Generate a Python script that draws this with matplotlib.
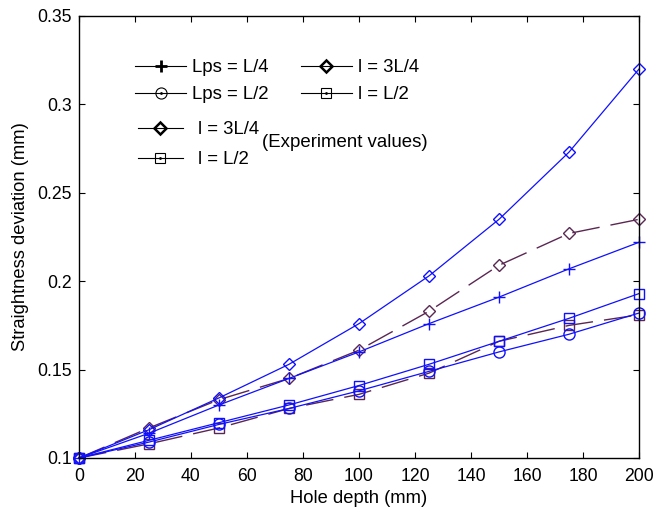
import matplotlib.pyplot as plt
from matplotlib.lines import Line2D
from matplotlib.legend_handler import HandlerTuple

plt.rcParams['font.family'] = ['Liberation Sans', 'DejaVu Sans']

# hole depth (mm)
depth = [0, 25, 50, 75, 100, 125, 150, 175, 200]

# simulation (blue)
sim_lps_l4 = [0.100, 0.114, 0.130, 0.145, 0.160, 0.176, 0.191, 0.207, 0.222]
sim_lps_l2 = [0.100, 0.109, 0.119, 0.128, 0.138, 0.149, 0.160, 0.170, 0.182]
sim_l_3l4 = [0.100, 0.116, 0.134, 0.153, 0.176, 0.203, 0.235, 0.273, 0.320]
sim_l_l2 = [0.100, 0.110, 0.120, 0.130, 0.141, 0.153, 0.166, 0.179, 0.193]

# experiment values (purple, dashed)
exp_l_3l4 = [0.100, 0.117, 0.133, 0.145, 0.161, 0.183, 0.209, 0.227, 0.235]
exp_l_l2 = [0.100, 0.108, 0.117, 0.128, 0.136, 0.148, 0.166, 0.175, 0.181]

blue = '#1010ff'
purple = '#5a2752'
dash = (0, (20, 8))

fig = plt.figure(figsize=(6.57, 5.13), dpi=100)
ax = fig.add_axes([79 / 657, 1 - 458 / 513, 560 / 657, 442 / 513])

ax.plot(depth, exp_l_3l4, color=purple, ls=dash, lw=1, marker='D', ms=6, mfc='none', clip_on=False)
ax.plot(depth, exp_l_l2, color=purple, ls=dash, lw=1, marker='s', ms=7.5, mfc='none', clip_on=False)
ax.plot(depth, sim_lps_l4, color=blue, lw=0.9, marker='+', ms=9, mew=1, clip_on=False)
ax.plot(depth, sim_lps_l2, color=blue, lw=0.9, marker='o', ms=8, mfc='none', clip_on=False)
ax.plot(depth, sim_l_3l4, color=blue, lw=0.9, marker='D', ms=6, mfc='none', clip_on=False)
ax.plot(depth, sim_l_l2, color=blue, lw=0.9, marker='s', ms=7.5, mfc='none', clip_on=False)

ax.set_xlim(0, 200)
ax.set_ylim(0.1, 0.35)
ax.set_xticks(range(0, 201, 20))
ax.set_yticks([0.1, 0.15, 0.2, 0.25, 0.3, 0.35])
ax.set_yticklabels(['0.1', '0.15', '0.2', '0.25', '0.3', '0.35'])
ax.tick_params(direction='in', length=4, width=0.8, labelsize=12.7, top=True, right=True)
ax.tick_params(axis='x', pad=7)
ax.tick_params(axis='y', pad=5)
for s in ax.spines.values():
    s.set_linewidth(1)
ax.set_xlabel('Hole depth (mm)', fontsize=13.2, labelpad=4)
ax.set_ylabel('Straightness deviation (mm)', fontsize=13.2, labelpad=6)


def handle(marker, ms, mew=1, dot=False):
    h = Line2D([], [], color='k', lw=0.8, marker=marker, ms=ms, mfc='none', mew=mew)
    if dot:
        return (h, Line2D([], [], ls='none', color='k', marker='.', ms=2))
    return h


hmap = {tuple: HandlerTuple(ndivide=1, pad=0)}

h1 = [handle('+', 9, 2), handle('o', 8, 0.8, True), handle('D', 6, 1.8), handle('s', 7, 0.8, True)]
l1 = ['Lps = L/4', 'Lps = L/2', 'l = 3L/4', 'l = L/2']
leg1 = fig.legend(h1, l1, ncol=2, loc='upper left', bbox_to_anchor=(135 / 657, 1 - 59 / 513),
                  frameon=False, fontsize=13.4, borderpad=0, borderaxespad=0, handlelength=2.75,
                  handletextpad=0.3, columnspacing=1.75, labelspacing=0.56, handler_map=hmap)

h2 = [handle('D', 6, 1.8), handle('s', 7, 0.8, True)]
l2 = ['l = 3L/4', 'l = L/2']
leg2 = fig.legend(h2, l2, loc='upper left', bbox_to_anchor=(138 / 657, 1 - 121 / 513),
                  frameon=False, fontsize=13.4, borderpad=0, borderaxespad=0, handlelength=2.4,
                  handletextpad=0.85, labelspacing=0.71, handler_map=hmap)
fig.text(262 / 657, 1 - 143 / 513, '(Experiment values)', fontsize=13.4, va='center')

fig.savefig('out.png', dpi=100)
